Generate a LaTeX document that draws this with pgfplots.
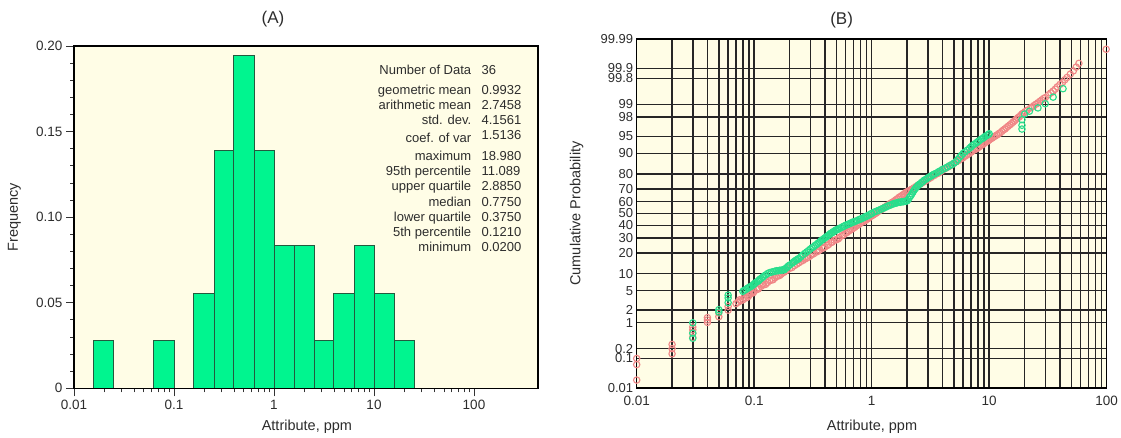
\documentclass[border=0pt]{standalone}
\usepackage{pgfplots}
\pgfplotsset{compat=1.18}
\usepackage{fontspec}
\setmainfont{Liberation Sans}

\definecolor{cream}{RGB}{255,253,230}
\definecolor{barfill}{RGB}{0,245,143}
\definecolor{baredge}{RGB}{35,90,62}
\definecolor{ptred}{RGB}{240,135,135}
\definecolor{ptgreen}{RGB}{40,222,140}
\definecolor{txt}{RGB}{45,45,45}

% Normal scores (z) of the cumulative probability, one table per series
\pgfplotstableread{
x z
0.01 -3.55
0.01 -3.22
0.01 -3.09
0.02 -2.99
0.02 -2.88
0.02 -2.79
0.03 -2.64
0.03 -2.55
0.03 -2.48
0.03 -2.42
0.04 -2.32
0.04 -2.27
0.04 -2.22
0.05 -2.20
0.05 -2.12
0.06 -2.06
0.06 -1.98
0.07 -1.92
0.073 -1.89
0.077 -1.86
0.08 -1.84
0.085 -1.80
0.09 -1.75
0.095 -1.70
0.10 -1.66
0.105 -1.62
0.11 -1.58
0.115 -1.55
0.12 -1.52
0.13 -1.47
0.14 -1.42
0.15 -1.37
0.16 -1.33
0.17 -1.29
0.18 -1.25
0.19 -1.21
0.20 -1.17
0.22 -1.11
0.24 -1.05
0.26 -1.00
0.28 -0.95
0.30 -0.90
0.32 -0.86
0.34 -0.82
0.36 -0.78
0.38 -0.74
0.40 -0.71
0.43 -0.66
0.46 -0.61
0.50 -0.56
0.53 -0.51
0.56 -0.47
0.60 -0.42
0.64 -0.37
0.68 -0.33
0.72 -0.29
0.76 -0.25
0.80 -0.21
0.85 -0.17
0.90 -0.13
0.95 -0.09
1.00 -0.05
1.06 -0.01
1.12 0.03
1.20 0.08
1.30 0.14
1.40 0.19
1.50 0.24
1.60 0.29
1.70 0.34
1.80 0.38
1.90 0.42
2.00 0.46
2.10 0.49
2.20 0.52
2.40 0.58
2.60 0.63
2.80 0.68
3.00 0.73
3.20 0.77
3.40 0.81
3.70 0.86
4.00 0.92
4.30 0.97
4.60 1.01
5.00 1.07
5.40 1.12
5.80 1.17
6.20 1.22
6.60 1.26
7.00 1.31
7.50 1.36
8.00 1.40
8.50 1.45
9.00 1.49
9.50 1.53
10.0 1.57
10.6 1.61
11.2 1.65
12.0 1.70
12.8 1.75
13.6 1.80
14.5 1.86
15.5 1.92
16.5 1.98
17.5 2.04
18.5 2.09
19.5 2.14
21.0 2.20
22.5 2.25
24.0 2.30
26.0 2.36
28.0 2.42
30.0 2.47
32.0 2.53
35.0 2.61
38.0 2.70
42.0 2.79
46.0 2.90
52.0 3.04
58.0 3.20
99.0 3.50
0.075 -1.84
0.082 -1.79
0.088 -1.78
0.092 -1.71
0.098 -1.69
0.108 -1.61
0.118 -1.50
0.125 -1.51
0.135 -1.43
0.145 -1.41
0.155 -1.34
0.165 -1.32
0.175 -1.26
0.21 -1.15
0.23 -1.08
0.25 -1.02
0.27 -0.97
0.29 -0.93
0.31 -0.87
0.35 -0.80
0.39 -0.73
0.42 -0.68
0.45 -0.62
0.48 -0.57
0.52 -0.54
0.58 -0.45
0.62 -0.40
0.66 -0.35
0.70 -0.31
0.74 -0.26
0.78 -0.23
0.83 -0.18
0.88 -0.15
0.93 -0.11
0.98 -0.06
1.03 -0.03
1.09 0.01
1.16 0.06
1.25 0.11
1.35 0.17
1.45 0.22
1.55 0.26
1.65 0.31
1.75 0.36
1.85 0.40
1.95 0.45
2.05 0.48
2.30 0.55
2.50 0.61
2.70 0.66
2.90 0.70
3.10 0.75
3.55 0.84
3.85 0.89
4.15 0.95
4.45 0.99
4.80 1.04
5.20 1.10
5.60 1.15
6.00 1.19
6.40 1.24
6.80 1.28
7.20 1.33
7.80 1.38
8.20 1.42
8.80 1.47
9.20 1.51
9.80 1.55
10.3 1.59
10.9 1.63
11.6 1.67
12.4 1.72
13.2 1.78
14.0 1.83
15.0 1.89
16.0 1.95
17.0 2.01
18.0 2.06
19.0 2.12
20.2 2.17
23.2 2.27
25.0 2.33
27.0 2.39
29.0 2.45
33.5 2.57
36.5 2.65
40.0 2.75
44.0 2.85
49.0 2.97
55.0 3.12
}\redtab

\pgfplotstableread{
x z
0.03 -2.66
0.03 -2.55
0.03 -2.33
0.05 -2.10
0.05 -2.05
0.06 -1.90
0.06 -1.80
0.06 -1.74
0.08 -1.66
0.085 -1.62
0.09 -1.58
0.095 -1.55
0.10 -1.50
0.105 -1.46
0.11 -1.42
0.115 -1.38
0.12 -1.34
0.125 -1.31
0.13 -1.28
0.14 -1.25
0.15 -1.23
0.16 -1.22
0.17 -1.21
0.18 -1.20
0.19 -1.15
0.20 -1.10
0.21 -1.06
0.22 -1.02
0.23 -0.99
0.24 -0.96
0.26 -0.88
0.28 -0.82
0.30 -0.76
0.32 -0.71
0.34 -0.66
0.36 -0.61
0.38 -0.56
0.40 -0.52
0.42 -0.48
0.44 -0.44
0.46 -0.41
0.48 -0.38
0.50 -0.35
0.52 -0.33
0.55 -0.30
0.58 -0.27
0.62 -0.24
0.66 -0.21
0.70 -0.18
0.75 -0.15
0.80 -0.12
0.85 -0.09
0.90 -0.06
0.95 -0.03
1.00 0.00
1.10 0.05
1.20 0.09
1.30 0.13
1.40 0.17
1.50 0.20
1.60 0.22
1.70 0.24
1.80 0.25
1.90 0.26
2.00 0.27
2.05 0.30
2.10 0.35
2.20 0.42
2.30 0.50
2.40 0.56
2.50 0.61
2.65 0.66
2.80 0.71
3.00 0.76
3.20 0.80
3.40 0.84
3.70 0.89
4.00 0.94
4.40 0.99
4.80 1.04
5.20 1.10
5.60 1.20
6.00 1.28
6.50 1.35
7.00 1.42
7.50 1.48
8.00 1.53
8.50 1.58
9.00 1.62
9.50 1.66
10.0 1.70
19.0 1.80
19.0 1.88
19.0 2.00
20.0 2.12
22.0 2.18
26.0 2.25
30.0 2.34
35.0 2.48
42.5 2.66
0.082 -1.64
0.088 -1.59
0.092 -1.56
0.098 -1.52
0.102 -1.48
0.108 -1.44
0.112 -1.40
0.118 -1.36
0.135 -1.26
0.145 -1.24
0.155 -1.22
0.165 -1.21
0.175 -1.20
0.185 -1.17
0.195 -1.12
0.215 -1.04
0.225 -1.00
0.235 -0.97
0.25 -0.92
0.27 -0.85
0.29 -0.79
0.31 -0.73
0.33 -0.68
0.35 -0.63
0.37 -0.58
0.39 -0.54
0.41 -0.50
0.43 -0.46
0.45 -0.42
0.47 -0.39
0.49 -0.36
0.51 -0.34
0.53 -0.32
0.57 -0.28
0.60 -0.25
0.64 -0.22
0.68 -0.19
0.72 -0.17
0.78 -0.13
0.82 -0.11
0.88 -0.07
0.92 -0.05
0.98 -0.01
1.05 0.03
1.15 0.07
1.25 0.11
1.35 0.15
1.45 0.18
1.55 0.21
1.65 0.23
1.75 0.24
1.85 0.25
1.95 0.26
2.15 0.38
2.25 0.46
2.35 0.53
2.45 0.58
2.58 0.63
2.72 0.68
2.90 0.73
3.10 0.78
3.30 0.82
3.55 0.86
3.85 0.91
4.20 0.96
4.60 1.02
5.00 1.07
5.40 1.15
5.80 1.24
6.20 1.31
6.80 1.39
7.20 1.45
7.80 1.51
8.20 1.55
8.80 1.60
9.20 1.64
9.80 1.68
}\greentab

\begin{document}
\begin{tikzpicture}
\path[use as bounding box] (0pt,0pt) rectangle (1121pt,437pt);

% (A) histogram of the attribute on a log scale
\begin{axis}[
  at={(74pt,48.7pt)}, anchor=south west, scale only axis,
  width=464pt, height=342.3pt,
  xmode=log, xmin=0.01, xmax=436.5, ymin=0, ymax=0.2,
  axis on top,
  axis background/.style={fill=cream},
  axis line style={line width=1.4pt, black},
  xtick={0.01,0.1,1,10,100}, xticklabels={0.01,0.1,1,10,100},
  ytick={0,0.05,0.1,0.15,0.2}, yticklabels={0,0.05,0.10,0.15,0.20},
  minor y tick num=4,
  tick align=outside, xtick pos=bottom, ytick pos=left,
  major tick length=8pt, minor tick length=4pt,
  tick style={black!80, line width=0.8pt},
  ticklabel style={font=\fontsize{13.5}{15}\selectfont, text=txt},
  /pgf/number format/assume math mode=true,
  xlabel={Attribute, ppm}, ylabel={Frequency},
  label style={font=\fontsize{14.5}{16}\selectfont, text=txt},
  xlabel style={at={(axis description cs:0.502,-0.112)}, anchor=center},
  ylabel style={at={(axis description cs:-0.1287,0.5)}, anchor=center},
  title={(A)},
  title style={at={(axis description cs:0.429,1.079)}, anchor=center, yshift=-6pt,
    font=\fontsize{17}{19}\selectfont, text=txt},
]
\addplot[ybar interval, fill=barfill, draw=baredge, line width=1pt] coordinates {
  (0.015849,0.02778) (0.025119,0) (0.039811,0) (0.063096,0.02778)
  (0.1,0) (0.158489,0.05556) (0.251189,0.13889) (0.398107,0.19444)
  (0.630957,0.13889) (1,0.08333) (1.584893,0.08333) (2.511886,0.02778)
  (3.981072,0.05556) (6.309573,0.08333) (10,0.05556) (15.848932,0.02778)
  (25.118864,0)
};
\end{axis}

% summary statistics
\foreach \lab/\val/\ly/\vy in {
  Number of Data/36/70/70,
  geometric mean/0.9932/90/90,
  arithmetic mean/2.7458/105/105,
  std. dev./4.1561/120/120,
  coef. of var/1.5136/138/135,
  maximum/18.980/156/156,
  95th percentile/11.089/171/171,
  upper quartile/2.8850/186/186,
  median/0.7750/202/202,
  lower quartile/0.3750/217/217,
  5th percentile/0.1210/232/232,
  minimum/0.0200/247/247}{
  \pgfmathsetmacro{\lb}{437-\ly-4.6}
  \pgfmathsetmacro{\vb}{437-\vy-4.6}
  \node[anchor=base east, inner sep=0pt, text=txt, font=\fontsize{13}{15}\selectfont]
    at (471.4pt,\lb pt) {\lab};
  \node[anchor=base west, inner sep=0pt, text=txt, font=\fontsize{13}{15}\selectfont]
    at (481.4pt,\vb pt) {\val};
}

% (B) cumulative probability plot, y axis in normal scores
\begin{axis}[
  at={(636.7pt,49pt)}, anchor=south west, scale only axis,
  width=470pt, height=349pt,
  xmode=log, xmin=0.01, xmax=100, ymin=-3.719, ymax=3.719,
  axis background/.style={fill=cream},
  axis line style={line width=1.4pt, black},
  xtick={0.01,0.1,1,10,100}, xticklabels={0.01,0.1,1,10,100},
  ytick={-3.7190,-3.0902,-2.8782,-2.3263,-2.0537,-1.6449,-1.2816,-0.8416,-0.5244,-0.2533,0,0.2533,0.5244,0.8416,1.2816,1.6449,2.0537,2.3263,2.8782,3.0902,3.7190},
  yticklabels={0.01,0.1,0.2,1,2,5,10,20,30,40,50,60,70,80,90,95,98,99,99.8,99.9,99.99},
  tick style={draw=none},
  xmajorgrids, xminorgrids, ymajorgrids,
  major grid style={black!85, line width=1.5pt},
  minor grid style={black!85, line width=1.5pt},
  xticklabel style={font=\fontsize{13.5}{15}\selectfont, text=txt, yshift=-5pt},
  yticklabel style={font=\fontsize{13}{15}\selectfont, text=txt},
  /pgf/number format/assume math mode=true,
  xlabel={Attribute, ppm}, ylabel={Cumulative Probability},
  label style={font=\fontsize{14.5}{16}\selectfont, text=txt},
  xlabel style={at={(axis description cs:0.5006,-0.111)}, anchor=center},
  ylabel style={at={(axis description cs:-0.1277,0.5)}, anchor=center},
  title={(B)},
  title style={at={(axis description cs:0.436,1.054)}, anchor=center, yshift=-6pt,
    font=\fontsize{17}{19}\selectfont, text=txt},
]
\addplot[only marks, mark=o, mark size=3.2pt, ptred, mark options={line width=1.1pt}]
  table[x=x, y=z] {\redtab};
\addplot[only marks, mark=o, mark size=3.2pt, ptgreen, mark options={line width=1.1pt}]
  table[x=x, y=z] {\greentab};
\end{axis}
\end{tikzpicture}
\end{document}
